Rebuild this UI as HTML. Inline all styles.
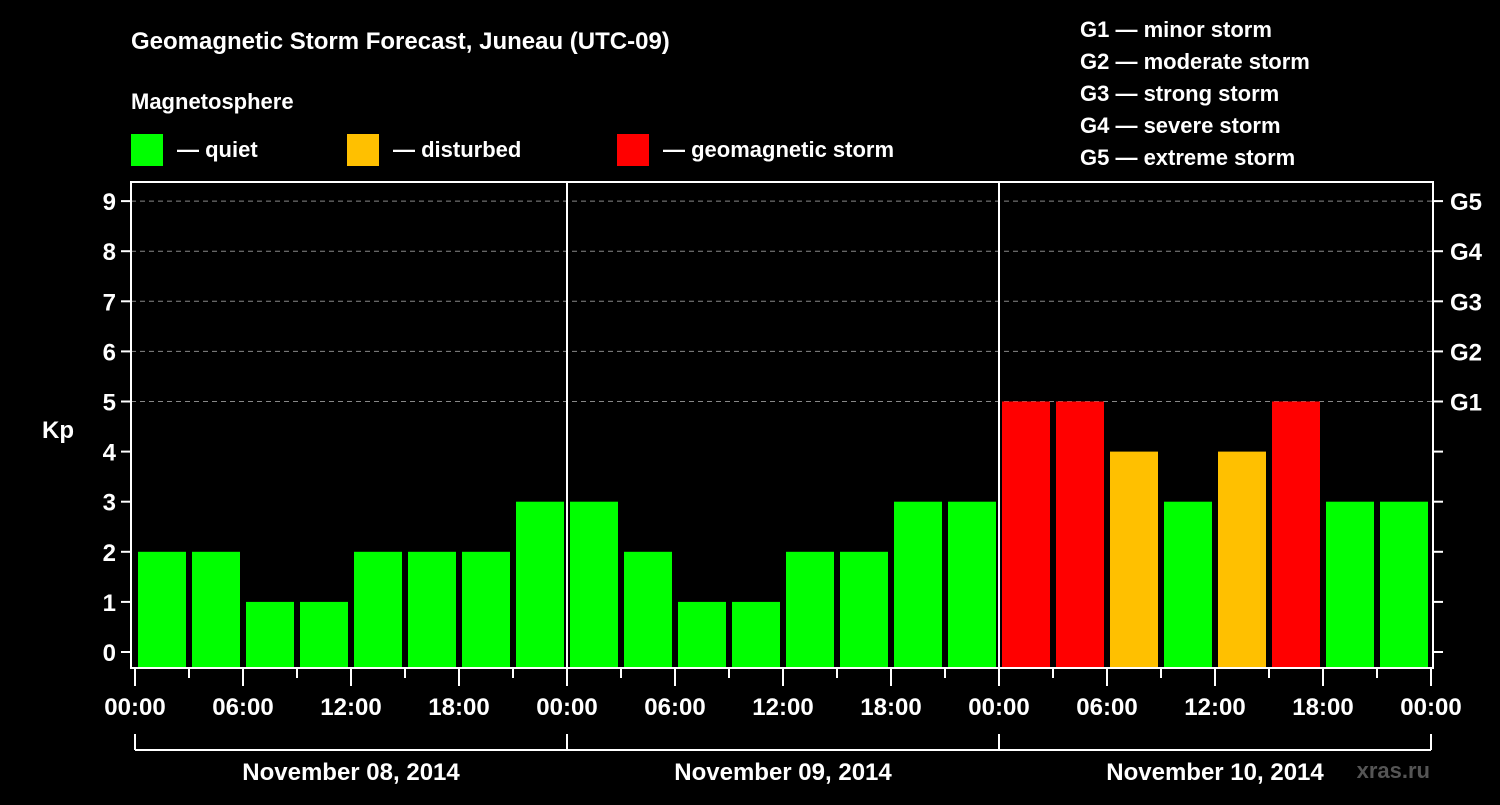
<!DOCTYPE html>
<html><head><meta charset="utf-8"><style>
body{margin:0;background:#000;width:1500px;height:800px;overflow:hidden}
svg text{font-family:"Liberation Sans",Arial,sans-serif;font-weight:bold;fill:#fff}
</style></head><body>
<svg id="c" width="1500" height="800" xmlns="http://www.w3.org/2000/svg">
<text x="131" y="49" font-size="24">Geomagnetic Storm Forecast, Juneau (UTC-09)</text>
<text x="131" y="109" font-size="22">Magnetosphere</text>
<g><rect x="131" y="134" width="32" height="32" fill="#00ff00"/><text x="177" y="157" font-size="22">— quiet</text></g>
<g><rect x="347" y="134" width="32" height="32" fill="#ffc000"/><text x="393" y="157" font-size="22">— disturbed</text></g>
<g><rect x="617" y="134" width="32" height="32" fill="#ff0000"/><text x="663" y="157" font-size="22">— geomagnetic storm</text></g>
<g font-size="22">
<text x="1080" y="37">G1 — minor storm</text>
<text x="1080" y="69">G2 — moderate storm</text>
<text x="1080" y="101">G3 — strong storm</text>
<text x="1080" y="133">G4 — severe storm</text>
<text x="1080" y="165">G5 — extreme storm</text>
</g>
<text x="42" y="438" font-size="24">Kp</text>
<text x="1430" y="778" font-size="22" fill="#555" style="fill:#555" text-anchor="end">xras.ru</text>
<g id="plot"></g>
</svg>
<script>
const values=[2,2,1,1,2,2,2,3, 3,2,1,1,2,2,3,3, 5,5,4,3,4,5,3,3];
const days=["November 08, 2014","November 09, 2014","November 10, 2014"];
const hourLabels=["00:00","06:00","12:00","18:00"];
const gLabels=["G1","G2","G3","G4","G5"];
const yTicks=[0,1,2,3,4,5,6,7,8,9];
const NS="http://www.w3.org/2000/svg";
const g=document.getElementById('plot');
const X0=135,STEP=54;
function xs(i){return X0+i*STEP;}
function ys(v){return 652-v*50.1;}
const Y0=667;
function el(t,a,p){const e=document.createElementNS(NS,t);for(const k in a)e.setAttribute(k,a[k]);(p||g).appendChild(e);return e;}
// grid
yTicks.forEach(v=>{
 if(v>=5){const l=el('line',{x1:131,x2:1433,y1:ys(v),y2:ys(v),stroke:'#888','stroke-dasharray':'5,4','stroke-width':1});
 
 }
 const t=el('line',{x1:121,x2:131,y1:ys(v),y2:ys(v),stroke:'#fff','stroke-width':2});
 
 
 const r=el('line',{x1:1433,x2:1443,y1:ys(v),y2:ys(v),stroke:'#fff','stroke-width':2});
 
 
 const tx=el('text',{x:116,y:ys(v)+9,'font-size':24,'text-anchor':'end'});tx.textContent=v;
 
 
});
gLabels.forEach((s,i)=>{const tx=el('text',{x:1450,y:ys(5+i)+9,'font-size':24});tx.textContent=s;
 
 });
// bars
values.forEach((v,i)=>{
 const c=v>=5?'#ff0000':v>=4?'#ffc000':'#00ff00';
 const b=el('rect',{x:xs(i)+3,y:ys(v),width:48,height:Y0-ys(v),fill:c});
 
 
});
// frame
const f=el('rect',{x:131,y:182,width:1302,height:486,fill:'none',stroke:'#fff','stroke-width':2});


for(let d=1;d<days.length;d++){const l=el('line',{x1:xs(d*8),x2:xs(d*8),y1:182,y2:668,stroke:'#fff','stroke-width':2});
 
 }
// x ticks
for(let i=0;i<=values.length;i++){
 const major=i%2===0;
 const t=el('line',{x1:xs(i),x2:xs(i),y1:668,y2:major?686:678,stroke:'#fff','stroke-width':2});
 
 
 if(major){const tx=el('text',{x:xs(i),y:715,'font-size':24,'text-anchor':'middle'});tx.textContent=hourLabels[(i/2)%4];
 
 }
}
// day brackets
const br=el('line',{x1:X0,x2:xs(values.length),y1:750,y2:750,stroke:'#fff','stroke-width':2});


for(let d=0;d<=days.length;d++){const t=el('line',{x1:xs(d*8),x2:xs(d*8),y1:734,y2:750,stroke:'#fff','stroke-width':2});
 
 }
days.forEach((s,d)=>{const tx=el('text',{x:xs(d*8+4),y:780,'font-size':24,'text-anchor':'middle'});tx.textContent=s;
 
 });
</script>
</body></html>
